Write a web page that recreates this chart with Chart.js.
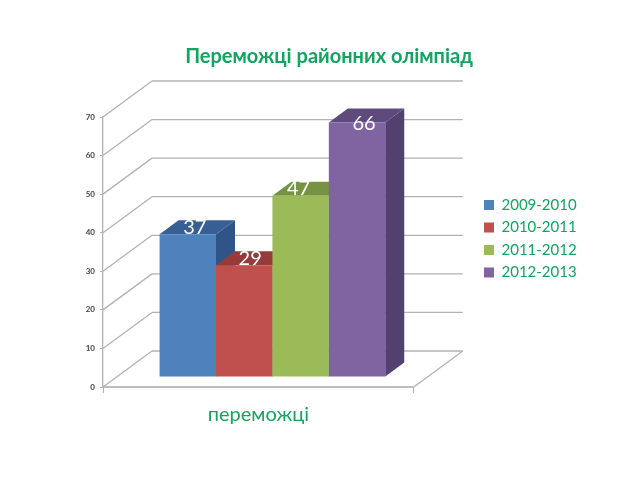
<!DOCTYPE html>
<html lang="en">
<head>
  <meta charset="UTF-8">
  <title>Переможці районних олімпіад</title>
  <script src="https://cdn.jsdelivr.net/npm/chart.js"></script>
  <style>
    body { margin: 0; background: #fff; }
  </style>
</head>
<body>
<canvas id="myChart" width="640" height="480"></canvas>
<script>
  const chartTitle = 'Переможці районних олімпіад';
  const categories = ['переможці'];
  const seriesNames = ['2009-2010', '2010-2011', '2011-2012', '2012-2013'];
  const seriesValues = [37, 29, 47, 66];
  const frontColors = ['#4f81bd', '#c0504d', '#9bbb59', '#8064a2'];
  const topColors = ['#385f94', '#963b39', '#779240', '#5e4a7c'];
  const sideColors = ['#2e5488', '#7f2f2d', '#5f7a30', '#54406e'];

  const green = '#12a55f';
  const gridColor = '#b2b2b2';
  const wallDepth = { x: 49, y: -36 };
  const barShift = { x: 14, y: -10 };
  const barDepth = { x: 19, y: -14 };
  const labelNudge = [7, 6, -2, 7];

  function line(ctx, x1, y1, x2, y2) {
    ctx.beginPath();
    ctx.moveTo(x1, y1);
    ctx.lineTo(x2, y2);
    ctx.stroke();
  }

  function fillPoly(ctx, color, pts) {
    ctx.fillStyle = color;
    ctx.beginPath();
    pts.forEach((p, i) => i ? ctx.lineTo(p[0], p[1]) : ctx.moveTo(p[0], p[1]));
    ctx.closePath();
    ctx.fill();
  }

  // fake 3D: back wall, floor, bar tops and sides, moved into place from the real scales
  const fake3d = {
    id: 'fake3d',
    afterLayout(chart) {
      const title = chart.titleBlock;
      title.left = 179;
      title.right = 479;
      const legend = chart.legend;
      legend.left = 476.5;
      legend.right = 640;
      legend.top = 190;
      legend.bottom = 480;
    },
    beforeDatasetsDraw(chart) {
      const { ctx, chartArea, scales } = chart;
      ctx.save();
      ctx.strokeStyle = gridColor;
      ctx.lineWidth = 1.3;
      scales.y.ticks.forEach(t => {
        const y = scales.y.getPixelForValue(t.value);
        line(ctx, chartArea.left, y, chartArea.left + wallDepth.x, y + wallDepth.y);
        line(ctx, chartArea.left + wallDepth.x, y + wallDepth.y, chartArea.right + wallDepth.x, y + wallDepth.y);
      });
      line(ctx, chartArea.right, chartArea.bottom, chartArea.right + wallDepth.x, chartArea.bottom + wallDepth.y);
      ctx.restore();

      // left to right, so each bar covers the side of the one before it
      ctx.save();
      ctx.translate(barShift.x, barShift.y);
      seriesValues.forEach((v, i) => {
        const meta = chart.getDatasetMeta(i);
        meta.data.forEach(bar => {
          const l = bar.x - bar.width / 2;
          const r = bar.x + bar.width / 2;
          const dx = barDepth.x;
          const dy = barDepth.y;
          fillPoly(ctx, sideColors[i], [[r, bar.y], [r + dx, bar.y + dy], [r + dx, bar.base + dy], [r, bar.base]]);
          fillPoly(ctx, topColors[i], [[l, bar.y], [l + dx, bar.y + dy], [r + dx, bar.y + dy], [r, bar.y]]);
        });
        meta.controller.draw();
      });
      ctx.restore();
      return false;
    },
    afterDraw(chart) {
      const ctx = chart.ctx;
      ctx.save();
      ctx.font = '20px Lato, "Open Sans", sans-serif';
      ctx.fillStyle = '#fff';
      ctx.textAlign = 'center';
      ctx.textBaseline = 'middle';
      seriesValues.forEach((v, i) => {
        const bar = chart.getDatasetMeta(i).data[0];
        const y = Math.max(bar.y + barShift.y - 7, 124);
        ctx.fillText(v, bar.x + barShift.x + labelNudge[i], y);
      });
      ctx.restore();
    }
  };

  new Chart(document.getElementById('myChart').getContext('2d'), {
    type: 'bar',
    data: {
      labels: categories,
      datasets: seriesNames.map((name, i) => ({
        label: name,
        data: [seriesValues[i]],
        backgroundColor: frontColors[i]
      }))
    },
    options: {
      responsive: false,
      animation: false,
      layout: { padding: { right: 116 } },
      datasets: { bar: { barPercentage: 1, categoryPercentage: 0.726, borderWidth: 0 } },
      scales: {
        x: {
          afterFit: s => { s.height = 93; },
          grid: { drawOnChartArea: false, color: gridColor, tickLength: 6 },
          border: { color: '#bdbdbd', width: 2 },
          ticks: { color: green, padding: 10, font: { family: 'Lato, "Open Sans", sans-serif', size: 20 } }
        },
        y: {
          min: 0,
          max: 70,
          afterFit: s => { s.width = 103; },
          grid: { drawOnChartArea: false, color: gridColor, tickLength: 3 },
          border: { color: gridColor, width: 1.3 },
          ticks: { stepSize: 10, color: '#444', padding: 5, font: { family: 'Lato, "Open Sans", sans-serif', size: 8, weight: 'bold' } }
        }
      },
      plugins: {
        title: {
          display: true,
          text: chartTitle,
          color: green,
          padding: { top: 45, bottom: 48 },
          font: { family: 'Lato, "Open Sans", sans-serif', size: 20, weight: 'bold', lineHeight: 1.2 }
        },
        legend: {
          position: 'right',
          align: 'start',
          labels: {
            boxWidth: 10,
            boxHeight: 10,
            padding: 7.5,
            color: green,
            font: { family: 'Lato, "Open Sans", sans-serif', size: 15 }
          }
        },
        tooltip: { enabled: false }
      }
    },
    plugins: [fake3d]
  });
</script>
</body>
</html>
